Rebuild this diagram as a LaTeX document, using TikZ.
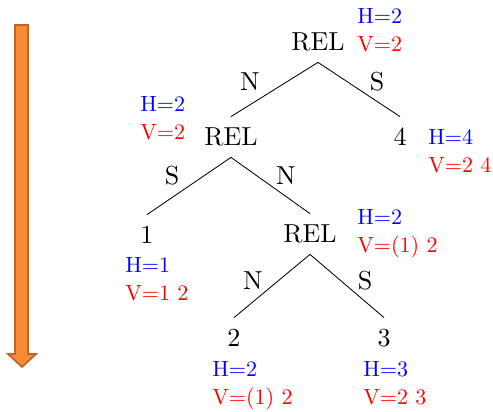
\documentclass[tikz,border=0pt]{standalone}
\usepackage{fontspec}
\setmainfont{lmroman10-regular.otf}
\usepackage{tikz}
\usetikzlibrary{calc}

\definecolor{arrfill}{RGB}{247,140,52}
\definecolor{arrline}{RGB}{192,100,42}

\tikzset{
  tnode/.style={font=\fontsize{18.5}{22}\selectfont, text height=12.6pt, text depth=0pt, inner xsep=0pt, inner ysep=8pt},
  elbl/.style={font=\fontsize{18.5}{22}\selectfont, text height=12.6pt, text depth=0pt, inner sep=0pt},
  hv/.style={font=\fontsize{15.7}{19.8}\selectfont, align=left, inner sep=0pt, anchor=north west},
}

\begin{document}
\begin{tikzpicture}[x=0.025cm, y=-0.025cm]
    \useasboundingbox (0,0) rectangle (493,412);
    % arrow
    \path[draw=arrline, fill=arrfill, line width=1.2pt, line join=miter]
      (15,25)--(28,25)--(28,354)--(36,354)--(22,367)--(8,354)--(15,354)--cycle;
    % tree
    \node[tnode](rel0)at(318,42){REL};
    \node[tnode](rel1)at(231,137){REL};
    \node[tnode](n4)at(400,137){4};
    \node[tnode](n1)at(147,235){1};
    \node[tnode](rel2)at(310,234){REL};
    \node[tnode](n2)at(234,338){2};
    \node[tnode](n3)at(384,338){3};
    \path[draw, line width=0.6pt](rel0.south)to(rel1.north);
    \path[draw, line width=0.6pt](rel0.south)to(n4.north);
    \path[draw, line width=0.6pt](rel1.south)to(n1.north);
    \path[draw, line width=0.6pt](rel1.south)to(rel2.north);
    \path[draw, line width=0.6pt](rel2.south)to(n2.north);
    \path[draw, line width=0.6pt](rel2.south)to(n3.north);
    % branch labels
    \node[elbl](e01)at(250,82){N};
    \node[elbl](e04)at(377,82){S};
    \node[elbl](e11)at(172,176){S};
    \node[elbl](e12)at(286,176){N};
    \node[elbl](e22)at(253,281){N};
    \node[elbl](e23)at(365,281){S};
    % H and V
    \node[hv](hv0)at(357,8){\textcolor{blue}{H=2}\\\textcolor{red}{V=2}};
    \node[hv](hv1)at(140,96){\textcolor{blue}{H=2}\\\textcolor{red}{V=2}};
    \node[hv](hv4)at(428,129){\textcolor{blue}{H=4}\\\textcolor{red}{V=2 4}};
    \node[hv](hvn1)at(125,257){\textcolor{blue}{H=1}\\\textcolor{red}{V=1 2}};
    \node[hv](hv2)at(357,209){\textcolor{blue}{H=2}\\\textcolor{red}{V=(1) 2}};
    \node[hv](hvn2)at(212,361){\textcolor{blue}{H=2}\\\textcolor{red}{V=(1) 2}};
    \node[hv](hvn3)at(363,361){\textcolor{blue}{H=3}\\\textcolor{red}{V=2 3}};
\end{tikzpicture}
\end{document}
